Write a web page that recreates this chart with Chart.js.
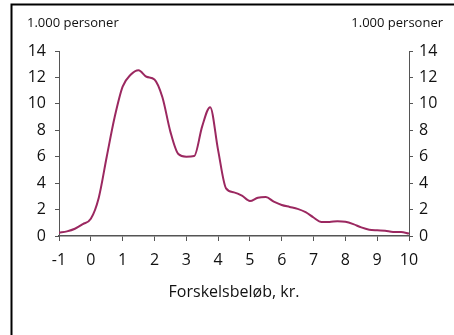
<!DOCTYPE html>
<html>
<head>
<meta charset="utf-8">
<script src="https://cdn.jsdelivr.net/npm/chart.js@4"></script>
<style>
  html, body { margin: 0; padding: 0; background: #fff; }
  #wrap { width: 454px; height: 335px; position: relative; }
</style>
</head>
<body>
<div id="wrap"><canvas id="ch1" width="454" height="335"></canvas></div>
<script>
// values (1.000 personer per Forskelsbeløb)
var belob = [-1, -0.75, -0.5, -0.25, 0, 0.25, 0.5, 0.75, 1, 1.25, 1.5, 1.75, 2, 2.25, 2.5, 2.75, 3, 3.25, 3.5, 3.75,
  4, 4.25, 4.5, 4.75, 5, 5.25, 5.5, 5.75, 6, 6.25, 6.5, 6.75, 7, 7.25, 7.5, 7.75, 8, 8.25, 8.5, 8.75, 9, 9.25, 9.5, 9.75, 10];
var personer = [0.25, 0.35, 0.55, 0.9, 1.3, 2.9, 6.0, 9.0, 11.3, 12.2, 12.55, 12.05, 11.85, 10.5, 7.9, 6.2, 6.0, 6.05, 8.3, 9.75,
  6.5, 3.6, 3.3, 3.05, 2.65, 2.9, 2.95, 2.6, 2.35, 2.2, 2.05, 1.8, 1.4, 1.06, 1.06, 1.12, 1.08, 0.9, 0.65, 0.48, 0.43, 0.4, 0.3, 0.3, 0.18];
var yTicks = [0, 2, 4, 6, 8, 10, 12, 14];
var xTicks = [-1, 0, 1, 2, 3, 4, 5, 6, 7, 8, 9, 10];
var unitLabel = '1.000 personer';
var xTitle = 'Forskelsbeløb, kr.';

var fam = '"Open Sans", sans-serif';
var points = [];
for (var i = 0; i < belob.length; i++) {
  points.push({x: belob[i], y: personer[i]});
}

// frame and the unit labels above the axes
var framePlugin = {
  id: 'frame',
  afterDraw: function(chart) {
    var ctx = chart.ctx;
    ctx.save();
    ctx.strokeStyle = '#000';
    ctx.lineWidth = 2;
    ctx.beginPath();
    ctx.moveTo(11.5, 335);
    ctx.lineTo(11.5, 4.5);
    ctx.lineTo(454, 4.5);
    ctx.stroke();
    ctx.fillStyle = '#111';
    ctx.font = '13px ' + fam;
    ctx.textBaseline = 'alphabetic';
    ctx.textAlign = 'left';
    ctx.fillText(unitLabel, 27, 27);
    ctx.textAlign = 'right';
    ctx.fillText(unitLabel, 443, 27);
    ctx.restore();
  }
};

var axisGrid = {drawOnChartArea: false, drawTicks: true, tickLength: 4, color: '#555', tickColor: '#555'};

var myChart = new Chart(document.getElementById('ch1').getContext('2d'), {
  type: 'line',
  data: {
    datasets: [{
      data: points,
      borderColor: 'rgb(155, 40, 96)',
      borderWidth: 2,
      pointRadius: 0,
      fill: false,
      cubicInterpolationMode: 'monotone'
    }]
  },
  options: {
    responsive: false,
    animation: false,
    layout: {padding: {top: 51, right: 0, left: 0, bottom: 29}},
    plugins: {legend: {display: false}, tooltip: {enabled: false}},
    scales: {
      x: {
        type: 'linear',
        min: -1, max: 10,
        afterBuildTicks: function(s) { s.ticks = xTicks.map(function(v) { return {value: v}; }); },
        afterFit: function(s) { s.height = 70; },
        grid: {drawOnChartArea: false, drawTicks: true, tickLength: 5, color: '#555', tickColor: '#555'},
        border: {color: '#555', width: 1.5},
        ticks: {color: '#111', font: {family: fam, size: 16}, padding: 10, maxRotation: 0, autoSkip: false},
        title: {display: true, text: xTitle, color: '#111', font: {family: fam, size: 16}, padding: {top: 4, bottom: 4}}
      },
      y: {
        position: 'left',
        min: 0, max: 14,
        afterBuildTicks: function(s) { s.ticks = yTicks.map(function(v) { return {value: v}; }); },
        afterFit: function(s) { s.width = 59; },
        grid: axisGrid,
        border: {color: '#555', width: 1},
        ticks: {color: '#111', font: {family: fam, size: 16}, padding: 9}
      },
      y2: {
        position: 'right',
        min: 0, max: 14,
        afterBuildTicks: function(s) { s.ticks = yTicks.map(function(v) { return {value: v}; }); },
        afterFit: function(s) { s.width = 45; },
        grid: axisGrid,
        border: {color: '#555', width: 1},
        ticks: {color: '#111', font: {family: fam, size: 16}, padding: 6}
      }
    }
  },
  plugins: [framePlugin]
});
</script>
</body>
</html>
